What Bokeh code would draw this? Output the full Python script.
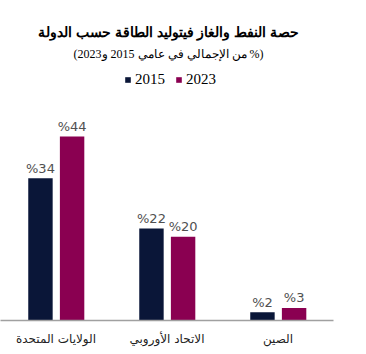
from bokeh.plotting import figure
from bokeh.models import ColumnDataSource, FactorRange, Range1d, Label, Legend, LegendItem
from bokeh.transform import dodge
from bokeh.embed import file_html
from bokeh.resources import INLINE

countries = ["الولايات المتحدة", "الاتحاد الأوروبي", "الصين"]
years = ["2015", "2023"]
share_2015 = [34, 22, 2]
share_2023 = [44, 20, 3]
colors = ["#0A1638", "#8A0051"]

title_text = "حصة النفط والغاز فيتوليد الطاقة حسب الدولة"
subtitle_text = "\u202B(% من الإجمالي في عامي 2015 و2023)\u202C"

src = ColumnDataSource(dict(
    country=countries,
    v2015=share_2015,
    v2023=share_2023,
    l2015=["%" + str(v) for v in share_2015],
    l2023=["%" + str(v) for v in share_2023],
))

p = figure(width=366, height=354, x_range=FactorRange(*countries, range_padding=0),
           y_range=Range1d(0, 76.5), output_backend="svg", toolbar_location=None,
           min_border_left=0, min_border_right=33, min_border_top=0, min_border_bottom=34)
p.outline_line_color = None
p.xgrid.visible = False
p.ygrid.visible = False
p.yaxis.visible = False
p.background_fill_color = "white"
p.border_fill_color = "white"

offsets = [-0.14, 0.145]
r1 = p.vbar(x=dodge("country", offsets[0], range=p.x_range), top="v2015", width=0.22,
            source=src, fill_color=colors[0], line_color=None)
r2 = p.vbar(x=dodge("country", offsets[1], range=p.x_range), top="v2023", width=0.22,
            source=src, fill_color=colors[1], line_color=None)

for off, col, lab in [(offsets[0], "v2015", "l2015"), (offsets[1], "v2023", "l2023")]:
    p.text(x=dodge("country", off, range=p.x_range), y=col, text=lab, source=src,
           text_align="center", text_baseline="alphabetic", y_offset=-10,
           text_font_size="13px", text_color="#505050", text_font={"value": "DejaVu Sans"})

ax = p.xaxis[0]
ax.axis_line_color = "#A0A0A0"
ax.axis_line_width = 1.5
ax.major_tick_line_color = None
ax.minor_tick_line_color = None
ax.major_label_standoff = 5
ax.major_label_text_font = "DejaVu Sans"
ax.major_label_text_font_size = "12px"
ax.major_label_text_color = "#222222"

p.add_layout(Label(x=168, y=289, x_units="screen", y_units="screen", text=title_text,
                   text_align="center", text_baseline="middle", text_font="Liberation Sans",
                   text_font_style="bold", text_font_size="14px", text_color="#000000"))
p.add_layout(Label(x=168, y=267, x_units="screen", y_units="screen", text=subtitle_text,
                   text_align="center", text_baseline="middle", text_font="Liberation Serif",
                   text_font_size="12px", text_color="#000000"))

legend = Legend(items=[LegendItem(label=years[0], renderers=[r1]),
                       LegendItem(label=years[1], renderers=[r2])],
                location=(124, 232), orientation="horizontal",
                glyph_width=7, glyph_height=7, label_standoff=4, spacing=10,
                padding=0, margin=0, border_line_alpha=0, background_fill_alpha=0,
                label_text_font="Liberation Serif", label_text_font_size="15px",
                label_text_color="#000000")
p.add_layout(legend, "center")

open("out.html", "w").write(file_html(p, INLINE))
